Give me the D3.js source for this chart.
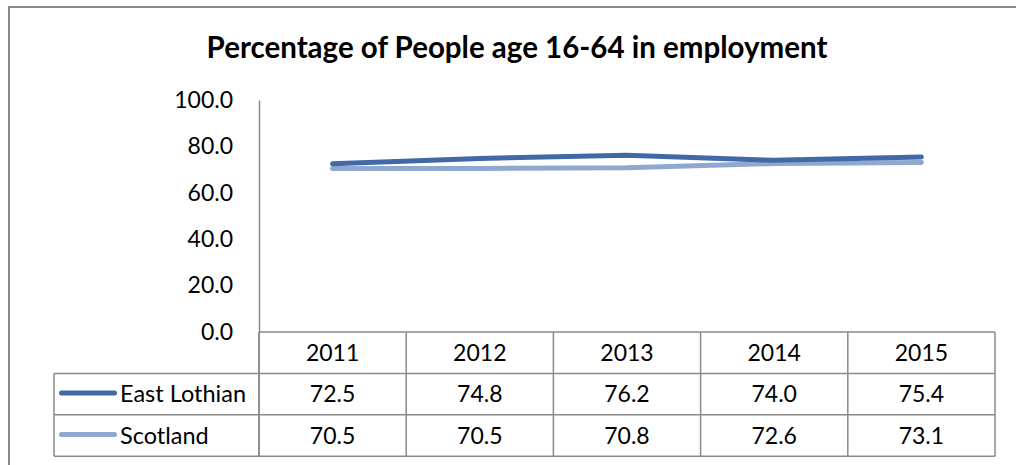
<!DOCTYPE html>
<html>
<head>
<meta charset="utf-8">
<script src="https://cdn.jsdelivr.net/npm/d3@7"></script>
<style>
  html, body { margin: 0; padding: 0; background: #fff; }
  svg { display: block; }
  text { font-family: Lato, "Liberation Sans", sans-serif; fill: #000; }
</style>
</head>
<body>
<svg id="chart" width="1016" height="465"></svg>
<script>
// Employment rate (%) of people aged 16-64
const years = ["2011", "2012", "2013", "2014", "2015"];
const eastLothian = [72.5, 74.8, 76.2, 74.0, 75.4];
const scotland = [70.5, 70.5, 70.8, 72.6, 73.1];
const yTicks = [0, 20, 40, 60, 80, 100];

const seriesNames = ["East Lothian", "Scotland"];
const seriesValues = [eastLothian, scotland];
const seriesColors = ["#4169a6", "#8fa8d0"];

const svg = d3.select("#chart");
const gridColor = "#8a8a8a";

// Chart frame
svg.append("rect")
  .attr("x", 9).attr("y", 7)
  .attr("width", 1040).attr("height", 480)
  .attr("fill", "none").attr("stroke", gridColor).attr("stroke-width", 2);

// Title
svg.append("text")
  .attr("x", 517).attr("y", 58)
  .attr("text-anchor", "middle")
  .style("font-size", "29.5px").style("font-weight", "bold")
  .text("Percentage of People age 16-64 in employment");

const x = d3.scaleBand().domain(years).range([259, 995]).padding(0);
const y = d3.scaleLinear().domain([0, 100]).range([332, 100]);

// Y axis
const yAxis = svg.append("g").attr("transform", "translate(259,0)")
  .call(d3.axisLeft(y).tickValues(yTicks).tickFormat(d3.format(".1f")).tickSize(0).tickPadding(26));
yAxis.select(".domain").attr("stroke", gridColor).attr("stroke-width", 1.5);
yAxis.selectAll("text")
  .style("font-family", "Lato, 'Liberation Sans', sans-serif")
  .style("font-size", "23px").attr("fill", "#000");

// Data table under the plot
const rowH = 41.4;
const tableTop = y(0);
const table = svg.append("g").attr("fill", "none").attr("stroke", gridColor).attr("stroke-width", 1.5);
const xLeft = x.range()[0], xRight = x.range()[1], legendLeft = 54;
const tableBottom = tableTop + rowH * 3;

// horizontal rules
table.append("line").attr("x1", xLeft).attr("x2", xRight).attr("y1", tableTop).attr("y2", tableTop);
[1, 2, 3].forEach(i => {
  table.append("line").attr("x1", legendLeft).attr("x2", xRight)
    .attr("y1", tableTop + rowH * i).attr("y2", tableTop + rowH * i);
});
// vertical rules
years.forEach(yr => {
  table.append("line").attr("x1", x(yr)).attr("x2", x(yr)).attr("y1", tableTop).attr("y2", tableBottom);
});
table.append("line").attr("x1", xRight).attr("x2", xRight).attr("y1", tableTop).attr("y2", tableBottom);
table.append("line").attr("x1", xLeft).attr("x2", xLeft).attr("y1", tableTop).attr("y2", tableBottom);
table.append("line").attr("x1", legendLeft).attr("x2", legendLeft).attr("y1", tableTop + rowH).attr("y2", tableBottom);

const cellText = (cx, cy, t) => svg.append("text")
  .attr("x", cx).attr("y", cy + 8.3)
  .attr("text-anchor", "middle")
  .style("font-size", "23px")
  .text(t);

// header row
years.forEach(yr => cellText(x(yr) + x.bandwidth() / 2, tableTop + rowH / 2, yr));

// series rows
seriesValues.forEach((vals, si) => {
  const cy = tableTop + rowH * (si + 1.5);
  vals.forEach((v, i) => cellText(x(years[i]) + x.bandwidth() / 2, cy, d3.format(".1f")(v)));
  svg.append("line")
    .attr("x1", 61.5).attr("x2", 114.5).attr("y1", cy - 1).attr("y2", cy - 1)
    .attr("stroke", seriesColors[si]).attr("stroke-width", 5).attr("stroke-linecap", "round");
  svg.append("text").attr("x", 120).attr("y", cy + 8.3)
    .style("font-size", "23.5px").text(seriesNames[si]);
});

// Lines (Scotland first so East Lothian draws on top)
const line = d3.line()
  .x((d, i) => x(years[i]) + x.bandwidth() / 2)
  .y(d => y(d));
[1, 0].forEach(si => {
  svg.append("path")
    .datum(seriesValues[si])
    .attr("d", line)
    .attr("fill", "none")
    .attr("stroke", seriesColors[si])
    .attr("stroke-width", 5)
    .attr("stroke-linecap", "round")
    .attr("stroke-linejoin", "round");
});
</script>
</body>
</html>
